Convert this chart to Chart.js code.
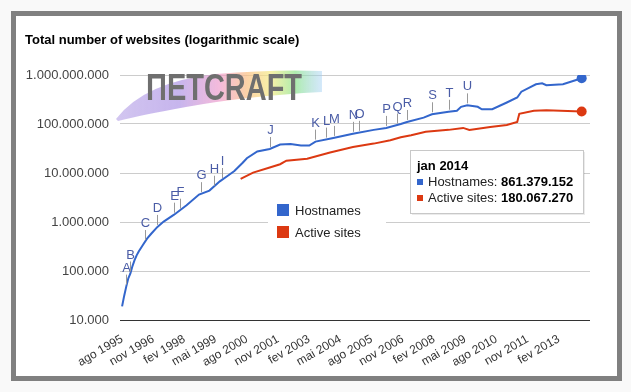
<!DOCTYPE html>
<html>
<head>
<meta charset="utf-8">
<script src="https://cdn.jsdelivr.net/npm/chart.js@4.4.0/dist/chart.umd.min.js"></script>
<style>
  body { margin: 0; background: #f9f9f9; }
  #frame { position: absolute; left: 11px; top: 11px; width: 601px; height: 360px; border: 5px solid #808080; background: #fff; }
  canvas { display: block; }
</style>
</head>
<body>
<div id="frame"><canvas id="chart" width="601" height="360"></canvas></div>
<script>
// Hostnames
const hostMonths = ['1995-08','1995-09','1995-10','1995-11','1995-12','1996-01','1996-02','1996-03','1996-04','1996-06',
  '1996-08','1996-10','1997-01','1997-04','1997-09','1998-03','1998-09','1999-02','1999-07','1999-11',
  '2000-02','2000-06','2000-08','2001-01','2001-07','2001-12','2002-05','2002-10','2003-02','2003-05',
  '2004-01','2004-11','2005-09','2006-03','2006-10','2007-01','2007-09','2008-01','2008-09','2009-01',
  '2009-03','2009-06','2009-11','2010-01','2010-06','2011-01','2011-06','2011-08','2012-03','2012-06',
  '2012-08','2013-04','2014-01'];
const hostValues = [18957, 31000, 48000, 71000, 89000, 126000, 166000, 209000, 251000, 339000,
  457000, 575000, 794000, 1020000, 1410000, 2190000, 3630000, 4370000, 6760000, 8910000,
  11000000, 16200000, 20000000, 27500000, 30900000, 38000000, 38900000, 36300000, 36300000, 43700000,
  51300000, 63100000, 75900000, 83200000, 100000000, 110000000, 135000000, 158000000, 178000000, 186000000,
  224000000, 240000000, 224000000, 200000000, 200000000, 275000000, 347000000, 457000000, 646000000, 676000000,
  617000000, 646000000, 861379152];

// Active sites
const activeMonths = ['2000-05','2000-11','2001-07','2001-12','2002-03','2003-01','2003-12','2004-11','2005-09','2006-05',
  '2006-10','2007-03','2007-10','2008-09','2009-04','2009-07','2010-05','2011-01','2011-06','2011-07',
  '2012-02','2012-08','2014-01'];
const activeValues = [7590000, 10200000, 12900000, 15100000, 17800000, 19500000, 26300000, 33900000, 39800000, 46800000,
  53700000, 58900000, 69200000, 75900000, 83200000, 75900000, 87100000, 95500000, 110000000, 162000000,
  186000000, 190000000, 180067270];

// annotation letters on the hostnames line
const noteLetters = ['A','B','C','D','E','F','G','H','I','J','K','L','M','N','O','P','Q','R','S','T','U'];
const noteMonths = ['1995-10','1995-12','1996-07','1997-01','1997-09','1997-12','1998-10','1999-04','1999-08','2001-07',
  '2003-05','2003-10','2004-02','2004-11','2005-02','2006-03','2006-08','2007-01','2008-01','2008-09','2009-06'];
const noteValues = [48000, 89000, 390000, 794000, 1410000, 1700000, 3700000, 5000000, 7200000, 30900000,
  43700000, 48000000, 52000000, 63100000, 66000000, 83200000, 93000000, 110000000, 158000000, 178000000, 240000000];

const tickLabels = ['ago 1995','nov 1996','fev 1998','mai 1999','ago 2000','nov 2001','fev 2003','mai 2004',
  'ago 2005','nov 2006','fev 2008','mai 2009','ago 2010','nov 2011','fev 2013'];
const yTicks = [10000, 100000, 1000000, 10000000, 100000000, 1000000000];
const monthNames = ['jan','fev','mar','abr','mai','jun','jul','ago','set','out','nov','dez'];

const BLUE = '#3366cc', RED = '#dc3912';
const FONT = 'Arial, "Liberation Sans", sans-serif';

function monthIndex(s) {
  const [y, m] = s.split('-').map(Number);
  return (y - 1995) * 12 + (m - 8);
}
function fmt(v) {
  return String(Math.round(v)).replace(/\B(?=(\d{3})+(?!\d))/g, '.');
}

const lastRadius = n => ctx => ctx.dataIndex === n - 1 ? 5 : 0;

// netcraft logo, title, annotations, legend, tooltip box
const decor = {
  id: 'decor',
  beforeDatasetsDraw(chart) {
    const c = chart.ctx;
    c.save();
    const g = c.createLinearGradient(102, 0, 306, 0);
    g.addColorStop(0, 'rgba(165,140,225,0.5)');
    g.addColorStop(0.3, 'rgba(175,150,230,0.7)');
    g.addColorStop(0.5, 'rgba(238,150,200,0.65)');
    g.addColorStop(0.63, 'rgba(250,190,130,0.7)');
    g.addColorStop(0.75, 'rgba(245,235,130,0.7)');
    g.addColorStop(0.87, 'rgba(140,228,140,0.7)');
    g.addColorStop(1, 'rgba(160,205,245,0.45)');
    c.fillStyle = g;
    c.beginPath();
    c.moveTo(100, 103);
    c.quadraticCurveTo(128, 66, 200, 58);
    c.quadraticCurveTo(260, 53, 306, 55);
    c.lineTo(306, 76);
    c.quadraticCurveTo(230, 80, 170, 91);
    c.quadraticCurveTo(125, 99, 102, 105);
    c.closePath();
    c.fill();
    c.fillStyle = '#6f6f6f';
    c.font = 'bold 36px ' + FONT;
    c.textBaseline = 'alphabetic';
    const txt = 'ΠETCRAFT';
    const w = c.measureText(txt).width;
    c.translate(130, 84);
    c.scale(156 / w, 1);
    c.fillText(txt, 0, 0);
    c.restore();

    c.save();
    c.fillStyle = '#000';
    c.font = 'bold 13px ' + FONT;
    c.textBaseline = 'middle';
    c.fillText('Total number of websites (logarithmic scale)', 9, 24);
    c.restore();
  },
  afterDatasetsDraw(chart) {
    const c = chart.ctx, xs = chart.scales.x, ys = chart.scales.y;
    c.save();
    // annotations
    c.font = '13px ' + FONT;
    c.textAlign = 'center';
    c.textBaseline = 'bottom';
    noteLetters.forEach((l, i) => {
      const x = Math.round(xs.getPixelForValue(monthIndex(noteMonths[i]))) + 0.5;
      const y = ys.getPixelForValue(noteValues[i]);
      c.strokeStyle = '#999';
      c.lineWidth = 1;
      c.beginPath();
      c.moveTo(x, y - 2);
      c.lineTo(x, y - 12);
      c.stroke();
      c.fillStyle = '#4a5ca6';
      c.fillText(l, x, y - 12);
    });

    // legend
    const ds = chart.data.datasets;
    c.fillStyle = '#fff';
    c.fillRect(252, 182, 118, 50);
    c.textAlign = 'left';
    c.textBaseline = 'middle';
    ds.forEach((d, i) => {
      const y = 194 + i * 22;
      c.fillStyle = d.borderColor;
      c.fillRect(261, y - 6, 12, 12);
      c.fillStyle = '#222';
      c.fillText(d.label, 279, y + 1);
    });

    // tooltip box for the last month
    const last = hostMonths[hostMonths.length - 1];
    const [yy, mm] = last.split('-').map(Number);
    const bx = 394, by = 134, bw = 173, bh = 63;
    c.fillStyle = 'rgba(0,0,0,0.08)';
    c.fillRect(bx + 2, by + 2, bw, bh);
    c.fillStyle = '#fff';
    c.fillRect(bx, by, bw, bh);
    c.strokeStyle = '#c8c8c8';
    c.strokeRect(bx + 0.5, by + 0.5, bw, bh);
    c.fillStyle = '#000';
    c.font = 'bold 13px ' + FONT;
    c.fillText(monthNames[mm - 1] + ' ' + yy, bx + 7, by + 16);
    const rows = [[ds[0].label, hostValues[hostValues.length - 1], BLUE],
                  [ds[1].label, activeValues[activeValues.length - 1], RED]];
    rows.forEach((r, i) => {
      const y = by + 32 + i * 16;
      c.fillStyle = r[2];
      c.fillRect(bx + 7, y - 3, 6, 6);
      c.font = '13px ' + FONT;
      c.fillStyle = '#222';
      const lab = r[0] + ': ';
      c.fillText(lab, bx + 18, y);
      const lw = c.measureText(lab).width;
      c.font = 'bold 13px ' + FONT;
      c.fillStyle = '#000';
      c.fillText(fmt(r[1]), bx + 18 + lw, y);
    });
    c.restore();
  }
};

new Chart(document.getElementById('chart'), {
  type: 'line',
  data: {
    datasets: [{
      label: 'Hostnames',
      data: hostMonths.map((m, i) => ({ x: monthIndex(m), y: hostValues[i] })),
      borderColor: BLUE,
      backgroundColor: BLUE,
      borderWidth: 2,
      pointRadius: lastRadius(hostMonths.length),
      pointBorderWidth: 0
    }, {
      label: 'Active sites',
      data: activeMonths.map((m, i) => ({ x: monthIndex(m), y: activeValues[i] })),
      borderColor: RED,
      backgroundColor: RED,
      borderWidth: 2,
      pointRadius: lastRadius(activeMonths.length),
      pointBorderWidth: 0
    }]
  },
  options: {
    responsive: false,
    animation: false,
    layout: { padding: { top: 59, right: 27, bottom: 0, left: 0 } },
    plugins: { legend: { display: false }, tooltip: { enabled: false }, title: { display: false } },
    scales: {
      x: {
        type: 'linear', min: -1, max: 225,
        grid: { display: false }, border: { display: false },
        afterBuildTicks: s => { s.ticks = tickLabels.map((t, i) => ({ value: i * 15 })); },
        afterFit: s => { s.height = 56; },
        ticks: {
          autoSkip: false, minRotation: 30, maxRotation: 30, padding: 4,
          callback: (v, i) => tickLabels[i],
          color: '#333', font: { family: FONT, size: 12 }
        }
      },
      y: {
        type: 'logarithmic', min: 10000, max: 1000000000,
        afterBuildTicks: s => { s.ticks = yTicks.map(v => ({ value: v })); },
        afterFit: s => { s.width = 104; },
        border: { display: false },
        grid: { drawTicks: false, color: ctx => ctx.tick && ctx.tick.value === 10000 ? '#333' : '#cccccc' },
        ticks: {
          padding: 11,
          callback: v => fmt(v),
          color: '#444', font: { family: FONT, size: 13 }
        }
      }
    }
  },
  plugins: [decor]
});
</script>
</body>
</html>
